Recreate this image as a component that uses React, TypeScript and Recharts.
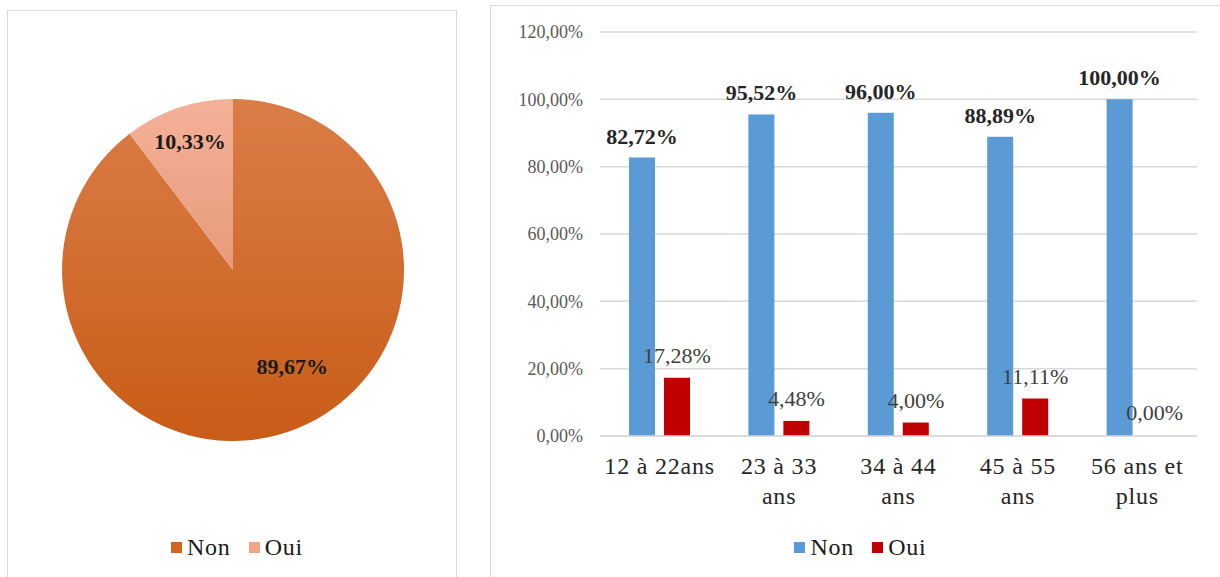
import { Bar, BarChart, CartesianGrid, Cell, LabelList, Legend, Pie, PieChart, XAxis, YAxis } from "recharts";

// --- data ---
const pieNames = ["Non", "Oui"];
const pieValues = [89.67, 10.33];

const ageGroups = ["12 à 22ans", "23 à 33\nans", "34 à 44\nans", "45 à 55\nans", "56 ans et\nplus"];
const nonValues = [82.72, 95.52, 96.0, 88.89, 100.0];
const ouiValues = [17.28, 4.48, 4.0, 11.11, 0.0];
const yTicks = [0, 20, 40, 60, 80, 100, 120];

const pieData = pieNames.map((name, i) => ({ name, value: pieValues[i] }));
const barData = ageGroups.map((group, i) => ({ group, Non: nonValues[i], Oui: ouiValues[i] }));

const FONT = "Liberation Serif";
const PIE_SOLID = ["#D2661E", "#F2A486"];
const PIE_GRAD = [
  ["#DA7D47", "#C95C17"],
  ["#F4B198", "#E89A7B"],
];
const BLUE = "#5B9BD5";
const RED = "#C00000";
const GRID = "#D9D9D9";

const pct = (v: number) => v.toFixed(2).replace(".", ",") + "%";

const RADIAN = Math.PI / 180;
// per-slice label placement (radius fraction, angle nudge)
const pieLabelPos = [
  { r: 0.66, da: 13 },
  { r: 0.79, da: 0 },
];

function PieLabel(props: any) {
  const { cx, cy, midAngle, outerRadius, index, value } = props;
  const p = pieLabelPos[index];
  const a = (midAngle + p.da) * RADIAN;
  const x = cx + outerRadius * p.r * Math.cos(a);
  const y = cy - outerRadius * p.r * Math.sin(a);
  return (
    <text x={x} y={y} textAnchor="middle" dominantBaseline="central" style={{ fontFamily: FONT }} fontSize={22} fontWeight="bold" fill="#1a1a1a">
      {pct(value)}
    </text>
  );
}

function CatTick(props: any) {
  const { x, y, payload } = props;
  const lines = String(payload.value).split("\n");
  return (
    <text x={x} y={y} textAnchor="middle" style={{ fontFamily: FONT, letterSpacing: 0.8 }} fontSize={24} fill="#262626">
      {lines.map((l, i) => (
        <tspan key={i} x={x} dy={i === 0 ? 38 : 30}>
          {l}
        </tspan>
      ))}
    </text>
  );
}

function makeLegend(colors?: string[]) {
  return function LegendContent(props: any) {
    const { payload } = props;
    return (
      <div style={{ display: "flex", justifyContent: "center", gap: 18, fontFamily: FONT, fontSize: 24, letterSpacing: 0.8, color: "#1a1a1a" }}>
        {(payload || []).map((e: any, i: number) => (
          <span key={e.value} style={{ display: "flex", alignItems: "center" }}>
            <span style={{ width: 11, height: 11, background: colors ? colors[i] : e.color, marginRight: 5 }} />
            {e.value}
          </span>
        ))}
      </div>
    );
  };
}

export default function App() {
  return (
    <div style={{ position: "absolute", left: 0, top: 0, width: 1220, height: 577, background: "#fff", overflow: "hidden", fontFamily: FONT }}>
      {/* pie panel */}
      <div style={{ position: "absolute", left: 7, top: 10, width: 448, height: 580, border: `1px solid ${GRID}` }}>
        <PieChart width={448} height={566} style={{ fontFamily: FONT }}>
          <defs>
            {PIE_GRAD.map((g, i) => (
              <linearGradient key={i} id={`pg${i}`} x1="0" y1="0" x2="0" y2="1">
                <stop offset="0%" stopColor={g[0]} />
                <stop offset="100%" stopColor={g[1]} />
              </linearGradient>
            ))}
          </defs>
          <Pie
            data={pieData}
            dataKey="value"
            nameKey="name"
            cx={220}
            cy={254}
            outerRadius={171}
            startAngle={90}
            endAngle={-270}
            stroke="none"
            label={PieLabel}
            labelLine={false}
            isAnimationActive={false}
          >
            {pieData.map((d, i) => (
              <Cell key={d.name} fill={`url(#pg${i})`} />
            ))}
          </Pie>
          <Legend
            layout="horizontal"
            align="center"
            verticalAlign="middle"
            content={makeLegend(PIE_SOLID)}
            wrapperStyle={{ top: 523, left: 5, width: 448 }}
          />
        </PieChart>
      </div>

      {/* bar panel */}
      <div style={{ position: "absolute", left: 490, top: 5, width: 740, height: 590, border: `1px solid ${GRID}` }}>
        <BarChart
          width={729}
          height={571}
          data={barData}
          margin={{ top: 26, right: 23, left: 0, bottom: 0 }}
          barSize={26}
          barGap={9}
          style={{ fontFamily: FONT }}
        >
          <CartesianGrid vertical={false} stroke={GRID} strokeWidth={1.5} />
          <XAxis
            dataKey="group"
            height={141}
            interval={0}
            tickLine={false}
            tickSize={0}
            tickMargin={0}
            axisLine={{ stroke: GRID, strokeWidth: 1.5 }}
            tick={<CatTick />}
          />
          <YAxis
            width={109}
            domain={[0, 120]}
            ticks={yTicks}
            tickFormatter={pct}
            axisLine={false}
            tickLine={false}
            tickMargin={11}
            tick={{ fill: "#595959", fontSize: 18, style: { fontFamily: FONT } }}
          />
          <Bar dataKey="Non" fill={BLUE} isAnimationActive={false}>
            <LabelList
              dataKey="Non"
              position="top"
              offset={14}
              formatter={(v: any) => pct(Number(v))}
              style={{ fontFamily: FONT, fontSize: 22, fontWeight: "bold", fill: "#262626" }}
            />
          </Bar>
          <Bar dataKey="Oui" fill={RED} minPointSize={1} isAnimationActive={false}>
            {barData.map((d) => (
              <Cell key={d.group} fill={d.Oui > 0 ? RED : "transparent"} />
            ))}
            <LabelList
              dataKey="Oui"
              position="top"
              offset={15}
              formatter={(v: any) => pct(Number(v))}
              style={{ fontFamily: FONT, fontSize: 22, fill: "#404040" }}
            />
          </Bar>
          <Legend
            layout="horizontal"
            align="center"
            verticalAlign="middle"
            content={makeLegend()}
            wrapperStyle={{ top: 528, left: 5, width: 729 }}
          />
        </BarChart>
      </div>
    </div>
  );
}
